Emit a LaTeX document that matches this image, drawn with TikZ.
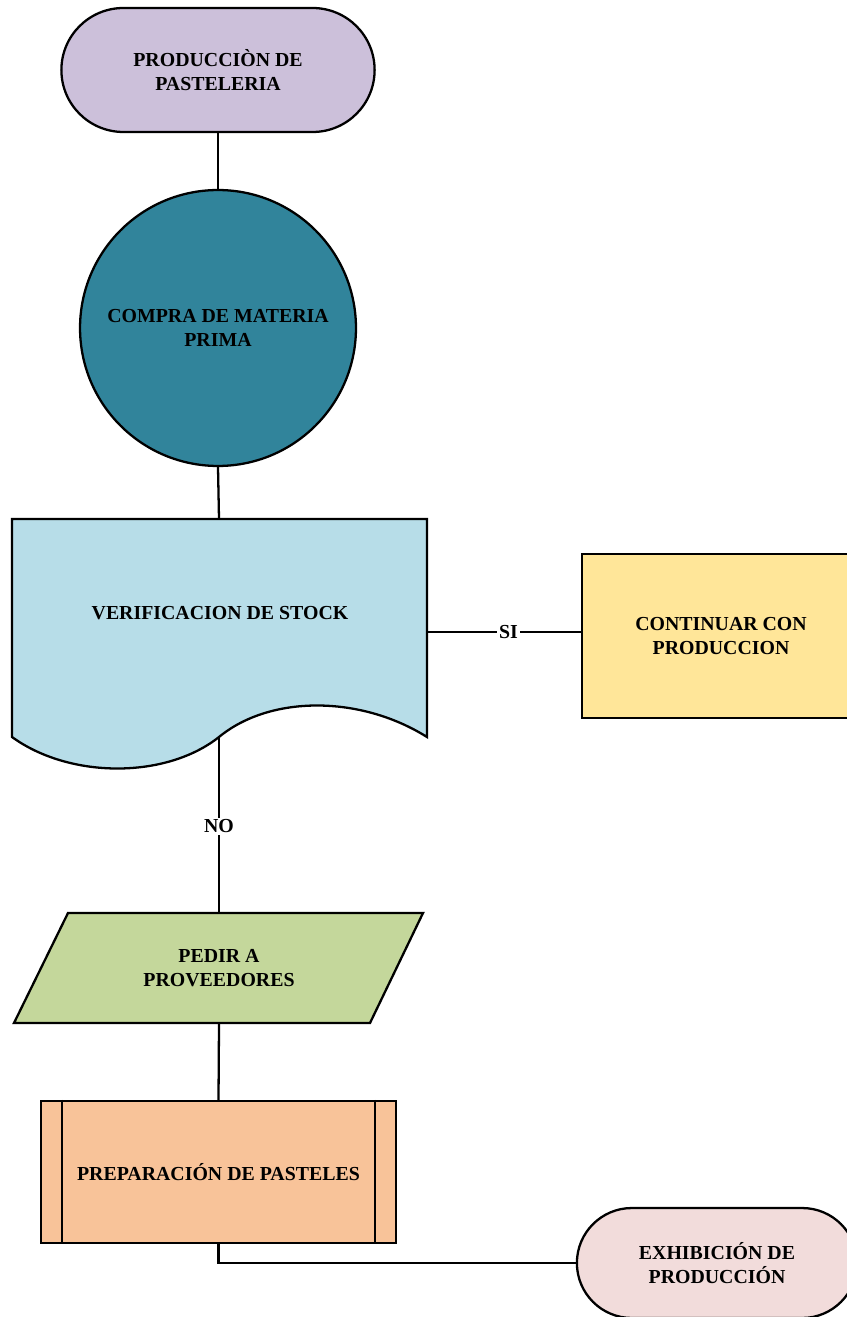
\documentclass[tikz,border=0pt]{standalone}
\usepackage{fontspec}
\setmainfont{Liberation Serif}
\usepackage{tikz}
\usetikzlibrary{shapes.misc}

\definecolor{lavanda}{RGB}{204,192,218}
\definecolor{petroleo}{RGB}{49,132,155}
\definecolor{celeste}{RGB}{183,221,232}
\definecolor{amarillo}{RGB}{255,230,153}
\definecolor{verdoso}{RGB}{196,215,155}
\definecolor{durazno}{RGB}{248,195,153}
\definecolor{rosado}{RGB}{242,220,219}

\begin{document}
\begin{tikzpicture}[x=0.02cm,y=-0.02cm,line width=1.3pt,
    every node/.style={font=\fontsize{11.3}{13.6}\selectfont\bfseries,align=center},
    terminal/.style={rounded rectangle,draw=black},
    caja/.style={rectangle,draw=black},
    etiqueta/.style={fill=white,inner sep=1pt}]
  \useasboundingbox (0,0) rectangle (847,1317);
  \clip (0,0) rectangle (847,1317);

  \node[terminal,fill=lavanda,minimum width=6.5cm,minimum height=2.48cm] (inicio) at (218,70)
    {PRODUCCIÒN DE\\PASTELERIA};
  \node[circle,draw=black,fill=petroleo,minimum size=5.52cm,inner sep=0pt] (compra) at (218,328)
    {COMPRA DE MATERIA\\PRIMA};

  % documento con borde ondulado
  \filldraw[fill=celeste] (12,519) -- (427,519) -- (427,737)
    .. controls (360,695) and (270,695) .. (219,737)
    .. controls (166,779) and (70,779) .. (12,737) -- cycle;
  \node (verif) at (220,613) {VERIFICACION DE STOCK};
  \coordinate (verif-arriba) at (219,519);
  \coordinate (verif-abajo) at (219,737);
  \coordinate (verif-der) at (427,632);

  \node[caja,fill=amarillo,minimum width=5.56cm,minimum height=3.28cm] (continuar) at (721,636)
    {CONTINUAR CON\\PRODUCCION};

  % entrada de datos
  \filldraw[fill=verdoso] (68,913) -- (423,913) -- (370,1023) -- (14,1023) -- cycle;
  \node[minimum height=2.2cm] (pedir) at (219,968) {PEDIR A\\PROVEEDORES};

  \node[caja,fill=durazno,minimum width=7.1cm,minimum height=2.84cm] (pasteles) at (218.5,1172)
    {PREPARACIÓN DE PASTELES};
  \draw ([xshift=0.44cm]pasteles.north west) -- ([xshift=0.44cm]pasteles.south west);
  \draw ([xshift=-0.44cm]pasteles.north east) -- ([xshift=-0.44cm]pasteles.south east);

  \node[terminal,fill=rosado,minimum width=5.84cm,minimum height=2.2cm] (exhibicion) at (717,1263)
    {EXHIBICIÓN DE\\PRODUCCIÓN};

  \draw (inicio.south) -- (compra.north);
  \draw (compra.south) -- (verif-arriba);
  \draw (verif-der) -- node[etiqueta,pos=0.53] {SI} (verif-der -| continuar.west);
  \draw (verif-abajo) -- node[etiqueta,pos=0.51] {NO} (pedir.north);
  \draw (pedir.south) -- (pasteles.north);
  \draw (pasteles.south) |- (exhibicion.west);
\end{tikzpicture}
\end{document}
